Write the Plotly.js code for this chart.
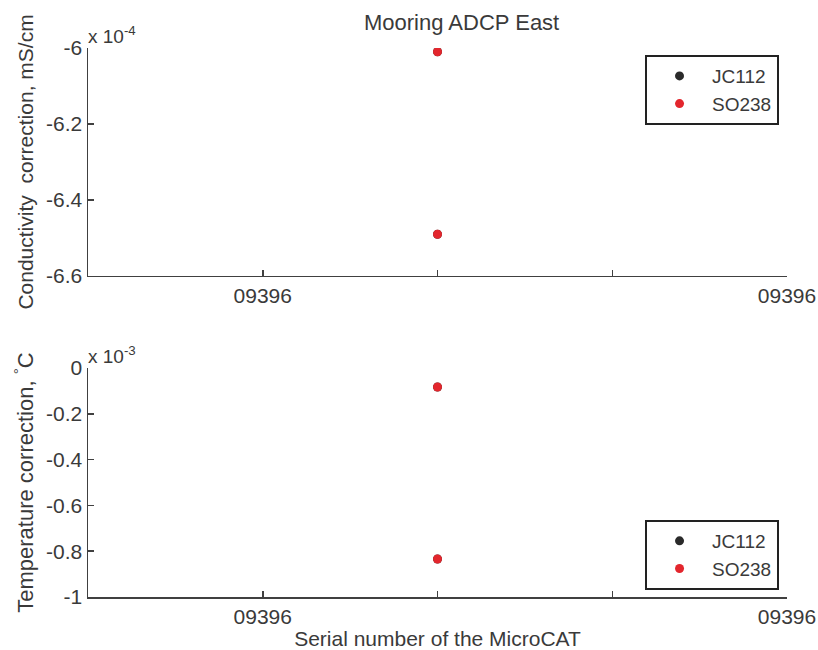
<!DOCTYPE html>
<html>
<head>
<meta charset="utf-8">
<script src="https://cdn.plot.ly/plotly-3.0.1.min.js"></script>
<style>html,body{margin:0;padding:0;background:#fff;}#chart{width:818px;height:650px;}</style>
</head>
<body>
<div id="chart"></div>
<script>
// Data
const serialPositions = [2, 2];
const xTickVals = [1, 4];
const xTickText = ['09396', '09396'];
const condJC112 = [-6.01e-4, -6.49e-4];
const condSO238 = [-6.01e-4, -6.49e-4];
const tempJC112 = [-0.083e-3, -0.834e-3];
const tempSO238 = [-0.083e-3, -0.834e-3];
const condTickVals = [-6.6e-4, -6.4e-4, -6.2e-4, -6.0e-4];
const condTickText = ['-6.6', '-6.4', '-6.2', '-6'];
const tempTickVals = [-1e-3, -0.8e-3, -0.6e-3, -0.4e-3, -0.2e-3, 0];
const tempTickText = ['-1', '-0.8', '-0.6', '-0.4', '-0.2', '0'];

const FONT = 'Liberation Sans, Arial, sans-serif';
const TXT = '#3a3a3a';
const AX = '#404040';
const RED = '#e3262d';
const BLK = '#2a2a2a';

const traces = [
  {x: serialPositions, y: condJC112, xaxis: 'x', yaxis: 'y', mode: 'markers', name: 'JC112',
   marker: {color: BLK, size: 9}, legend: 'legend'},
  {x: serialPositions, y: condSO238, xaxis: 'x', yaxis: 'y', mode: 'markers', name: 'SO238',
   marker: {color: RED, size: 9}, legend: 'legend'},
  {x: serialPositions, y: tempJC112, xaxis: 'x2', yaxis: 'y2', mode: 'markers', name: 'JC112',
   marker: {color: BLK, size: 9}, legend: 'legend2'},
  {x: serialPositions, y: tempSO238, xaxis: 'x2', yaxis: 'y2', mode: 'markers', name: 'SO238',
   marker: {color: RED, size: 9}, legend: 'legend2'}
];

const xCommon = {
  range: [0, 4], tickmode: 'array', tickvals: xTickVals, ticktext: xTickText,
  ticks: 'inside', ticklen: 6, tickwidth: 1.5, tickcolor: AX,
  minor: {tick0: 0, dtick: 1, ticks: 'inside', ticklen: 6, tickwidth: 1.5, tickcolor: AX, showgrid: false},
  showline: true, linecolor: AX, linewidth: 1.5, mirror: false,
  showgrid: false, zeroline: false, tickfont: {family: FONT, size: 21, color: TXT}
};
const yCommon = {
  ticks: 'inside', ticklen: 6, tickwidth: 1.5, tickcolor: AX,
  showline: true, linecolor: AX, linewidth: 1.5, mirror: false,
  showgrid: false, zeroline: false, tickfont: {family: FONT, size: 21, color: TXT},
  tickmode: 'array'
};

const legendCommon = {
  bgcolor: '#ffffff', bordercolor: '#222222', borderwidth: 2,
  font: {family: FONT, size: 19, color: TXT}, itemwidth: 55,
  xanchor: 'right', xref: 'paper', yref: 'paper', tracegroupgap: 0
};

const layout = {
  width: 818, height: 650,
  margin: {l: 88, r: 31, t: 48, b: 53},
  paper_bgcolor: '#ffffff', plot_bgcolor: '#ffffff',
  font: {family: FONT, size: 21, color: TXT},
  title: {text: 'Mooring ADCP East', font: {family: FONT, size: 22, color: TXT},
          x: 0.5345, xanchor: 'center', y: 0.965, yanchor: 'middle', xref: 'paper'},
  showlegend: true,
  xaxis: Object.assign({}, xCommon, {anchor: 'y', domain: [0, 1]}),
  yaxis: Object.assign({}, yCommon, {anchor: 'x', domain: [0.5847, 1], range: [-6.6e-4, -6.0e-4],
          tickvals: condTickVals, ticktext: condTickText,
          title: {text: 'Conductivity  correction, mS/cm', standoff: 6, font: {family: FONT, size: 21, color: TXT}}}),
  xaxis2: Object.assign({}, xCommon, {anchor: 'y2', domain: [0, 1],
          title: {text: 'Serial number of the MicroCAT', standoff: 5, font: {family: FONT, size: 21, color: TXT}}}),
  yaxis2: Object.assign({}, yCommon, {anchor: 'x2', domain: [0, 0.4171], range: [-1e-3, 0],
          tickvals: tempTickVals, ticktext: tempTickText,
          title: {text: 'Temperature correction, <sup>°</sup>C', standoff: 6, font: {family: FONT, size: 22, color: TXT}}}),
  legend: Object.assign({}, legendCommon, {x: 0.9886, y: 0.9872, yanchor: 'top'}),
  legend2: Object.assign({}, legendCommon, {x: 0.9886, y: 0.0128, yanchor: 'bottom'}),
  annotations: [
    {text: 'x 10<sup>-4</sup>', xref: 'paper', yref: 'paper', x: 0, y: 1, xanchor: 'left', yanchor: 'bottom',
     showarrow: false, font: {family: FONT, size: 19, color: TXT}, xshift: -2, yshift: -1},
    {text: 'x 10<sup>-3</sup>', xref: 'paper', yref: 'paper', x: 0, y: 0.4171, xanchor: 'left', yanchor: 'bottom',
     showarrow: false, font: {family: FONT, size: 19, color: TXT}, xshift: -2, yshift: -1}
  ]
};

Plotly.newPlot('chart', traces, layout, {displayModeBar: false, staticPlot: true});
</script>
</body>
</html>
